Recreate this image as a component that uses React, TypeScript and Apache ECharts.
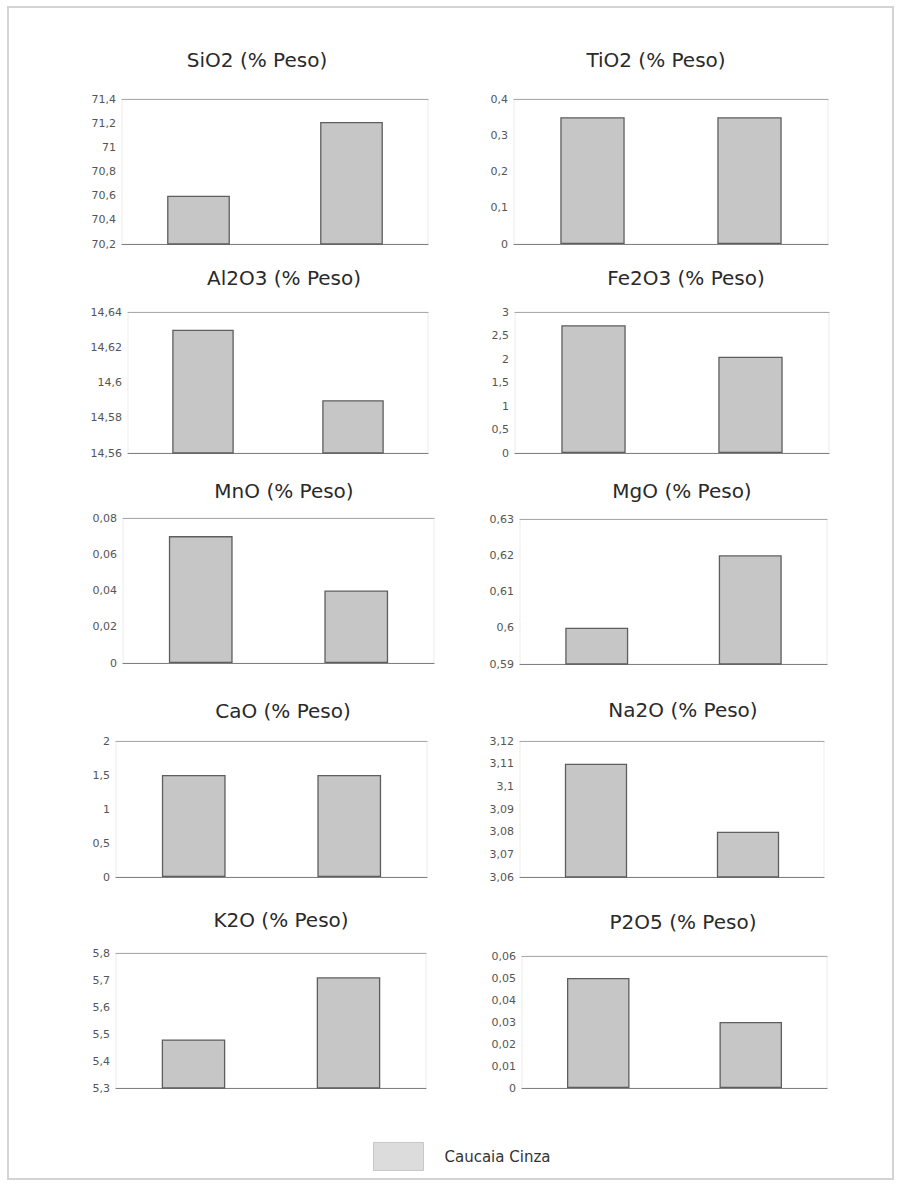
import React, { useEffect, useRef } from "react";
import * as echarts from "echarts";

const titles = [
  "SiO2 (% Peso)", "TiO2 (% Peso)",
  "Al2O3 (% Peso)", "Fe2O3 (% Peso)",
  "MnO (% Peso)", "MgO (% Peso)",
  "CaO (% Peso)", "Na2O (% Peso)",
  "K2O (% Peso)", "P2O5 (% Peso)",
];
const categories = ["Amostra 1", "Amostra 2"];
const seriesName = "Caucaia Cinza";

const sio2 = [70.6, 71.21];
const tio2 = [0.35, 0.35];
const al2o3 = [14.63, 14.59];
const fe2o3 = [2.72, 2.05];
const mno = [0.07, 0.04];
const mgo = [0.6, 0.62];
const cao = [1.5, 1.5];
const na2o = [3.11, 3.08];
const k2o = [5.48, 5.71];
const p2o5 = [0.05, 0.03];
const values = [sio2, tio2, al2o3, fe2o3, mno, mgo, cao, na2o, k2o, p2o5];

const axisMin = [70.2, 0, 14.56, 0, 0, 0.59, 0, 3.06, 5.3, 0];
const axisMax = [71.4, 0.4, 14.64, 3, 0.08, 0.63, 2, 3.12, 5.8, 0.06];
const axisStep = [0.2, 0.1, 0.02, 0.5, 0.02, 0.01, 0.5, 0.01, 0.1, 0.01];

// plot rectangles [left, top, right, bottom] in page pixels
const plots = [
  [122, 99, 428, 244], [514, 99, 828, 244],
  [128, 312, 428, 453], [515, 312, 829, 453],
  [123, 518, 434, 663], [520, 519, 827, 664],
  [116, 741, 427, 877], [520, 741, 824, 877],
  [116, 953, 426, 1088], [522, 956, 827, 1088],
];
const titleCenters = [
  [252, 57], [651, 57],
  [279, 275], [681, 275],
  [279, 488], [677, 488],
  [278, 708], [678, 707],
  [276, 917], [678, 919],
];

const fmt = (v: number) => {
  const s = String(Number(v.toFixed(4)));
  return s.replace(".", ",");
};

export default function App() {
  const ref = useRef<HTMLDivElement>(null);
  useEffect(() => {
    if (!ref.current) return;
    const chart = echarts.init(ref.current, null, { renderer: "svg" });
    const W = 901;
    const H = 1184;
    const grids: any[] = [];
    const xAxes: any[] = [];
    const yAxes: any[] = [];
    const series: any[] = [];
    const title: any[] = [];
    plots.forEach((p, i) => {
      grids.push({
        left: p[0],
        top: p[1],
        width: p[2] - p[0],
        height: p[3] - p[1],
        show: true,
        borderColor: "#ececec",
        borderWidth: 1,
        backgroundColor: "transparent",
      });
      xAxes.push({
        type: "category",
        gridIndex: i,
        data: categories,
        axisLine: { show: true, lineStyle: { color: "#808080", width: 1.2 } },
        axisTick: { show: false },
        axisLabel: { show: false },
      });
      xAxes.push({
        type: "category",
        gridIndex: i,
        position: "top",
        data: categories,
        axisLine: { show: true, lineStyle: { color: "#aaaaaa", width: 1.2 } },
        axisTick: { show: false },
        axisLabel: { show: false },
      });
      yAxes.push({
        type: "value",
        gridIndex: i,
        min: axisMin[i],
        max: axisMax[i],
        interval: axisStep[i],
        axisLine: { show: false },
        axisTick: { show: false },
        splitLine: { show: false },
        axisLabel: {
          formatter: fmt,
          color: "#555",
          fontSize: 11,
          fontFamily: "DejaVu Sans",
          margin: 6,
        },
      });
      series.push({
        type: "bar",
        name: seriesName,
        xAxisIndex: i * 2,
        yAxisIndex: i,
        data: values[i],
        barWidth: "41%",
        itemStyle: { color: "#c6c6c6", borderColor: "#5e5e5e", borderWidth: 1.3 },
      });
      title.push({
        text: titles[i],
        left: titleCenters[i][0],
        top: titleCenters[i][1] - 12,
        textAlign: "center",
        textStyle: {
          fontSize: 20,
          fontWeight: "normal",
          color: "#2a2a2a",
          fontFamily: "DejaVu Sans",
        },
      });
    });
    chart.setOption({
      animation: false,
      backgroundColor: "#ffffff",
      title,
      grid: grids,
      xAxis: xAxes,
      yAxis: yAxes,
      series,
      legend: {
        left: 368,
        top: 1137,
        itemWidth: 50,
        itemHeight: 28,
        icon: "rect",
        data: [
          {
            name: seriesName,
            itemStyle: { color: "#dcdcdc", borderColor: "#c8c8c8", borderWidth: 1 },
          },
        ],
        textStyle: {
          fontSize: 15,
          color: "#333",
          fontFamily: "DejaVu Sans",
          padding: [0, 0, 0, 16],
        },
      },
      graphic: [
        {
          type: "rect",
          shape: { x: 8, y: 7, width: W - 16, height: H - 12 },
          style: { fill: "none", stroke: "#d4d4d4", lineWidth: 2 },
          silent: true,
        },
      ],
    });
    return () => chart.dispose();
  }, []);
  return (
    <div
      ref={ref}
      style={{ position: "absolute", left: 0, top: 0, width: 901, height: 1184 }}
    />
  );
}
